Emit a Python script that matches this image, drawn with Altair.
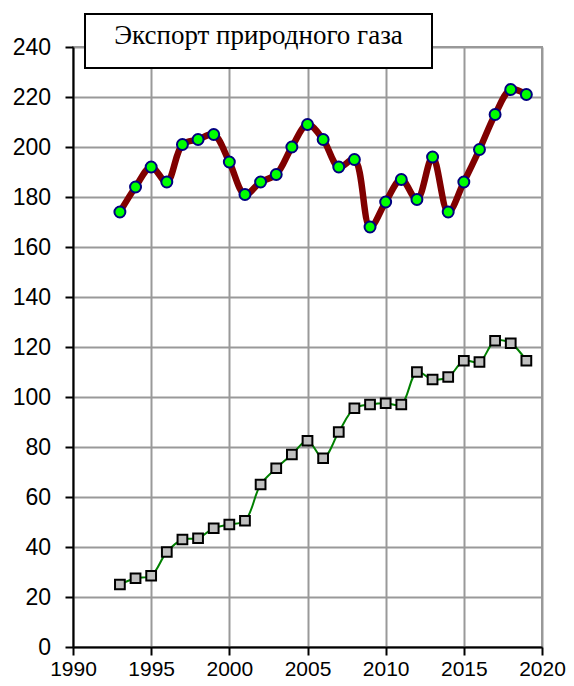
import altair as alt
import pandas as pd

years = list(range(1993, 2020))
export_total = [174, 184, 192, 186, 201, 203, 205, 194, 181, 186, 189, 200, 209, 203,
                192, 195, 168, 178, 187, 179, 196, 174, 186, 199, 213, 223, 221]
export_second = [25, 27.5, 28.5, 38, 43, 43.5, 47.5, 49, 50.5, 65, 71.5, 77, 82.5, 75.5,
                 86, 95.5, 97, 97.5, 97, 110, 107, 108, 114.5, 114, 122.5, 121.5, 114.5]
x_ticks = [1990, 1995, 2000, 2005, 2010, 2015, 2020]
y_ticks = list(range(0, 241, 20))
title_text = "Экспорт природного газа"

df1 = pd.DataFrame({"year": years, "value": export_total})
df2 = pd.DataFrame({"year": years, "value": export_second})

xenc = alt.X("year:Q", scale=alt.Scale(domain=[1990, 2020], nice=False),
             axis=alt.Axis(values=x_ticks, format="d", title=None, labelPadding=3,
                           labelFontSize=21, labelFlush=False, labelOverlap=False))
yenc = alt.Y("value:Q", scale=alt.Scale(domain=[0, 240], nice=False),
             axis=alt.Axis(values=y_ticks, title=None, labelPadding=14.5,
                           labelFontSize=23))

line1 = alt.Chart(df1).mark_line(color="#800000", strokeWidth=6.5,
                                 interpolate="catmull-rom").encode(x=xenc, y=yenc)
pts1 = alt.Chart(df1).mark_point(shape="circle", filled=True, fill="#00ff00",
                                 stroke="#000080", strokeWidth=2, size=120,
                                 opacity=1).encode(x="year:Q", y="value:Q")
line2 = alt.Chart(df2).mark_line(color="#008000", strokeWidth=2,
                                 interpolate="catmull-rom").encode(x="year:Q", y="value:Q")
pts2 = alt.Chart(df2).mark_point(shape="square", filled=True, fill="#c0c0c0",
                                 stroke="#000000", strokeWidth=2, size=95,
                                 opacity=1).encode(x="year:Q", y="value:Q")

tdf = pd.DataFrame({"t": [title_text]})
box = alt.Chart(tdf).mark_rect(fill="white", stroke="black", strokeWidth=2).encode(
    x=alt.value(12), x2=alt.value(359), y=alt.value(-33), y2=alt.value(21))
txt = alt.Chart(tdf).mark_text(font="Liberation Serif", fontSize=27, color="black",
                               align="center", baseline="alphabetic").encode(
    x=alt.value(185.5), y=alt.value(-3), text="t:N")

chart = alt.layer(line2, pts2, line1, pts1, box, txt).properties(
    width=469, height=600,
    padding={"left": 4, "top": 5, "right": 0, "bottom": 0}
).configure_axis(
    domainColor="black", domainWidth=2, tickColor="black", tickWidth=2, tickSize=8,
    labelFont="Liberation Sans", labelColor="black",
    gridColor="#999999", gridWidth=2
).configure_view(stroke="#999999", strokeWidth=2)

chart.save("out.html", embed_options={"renderer": "svg", "actions": False})
